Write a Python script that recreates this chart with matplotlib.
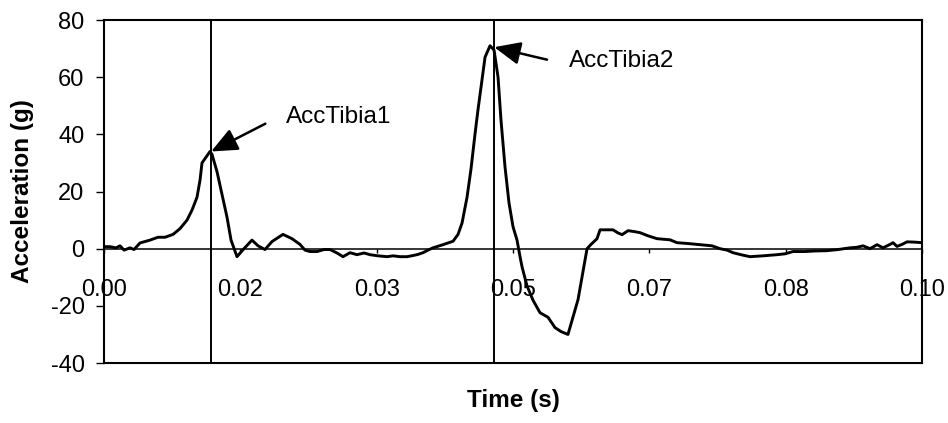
import numpy as np
import matplotlib.pyplot as plt

plt.rcParams['font.family'] = ['Liberation Sans', 'DejaVu Sans']
plt.rcParams['axes.unicode_minus'] = False

# tibia acceleration trace (time in s, acceleration in g)
time_s = [0.0, 0.00073, 0.00147, 0.00196, 0.00245, 0.00318, 0.00367, 0.0044,
          0.00562, 0.0066, 0.00746, 0.00844, 0.00929, 0.01015, 0.01076, 0.01137,
          0.01174, 0.01198, 0.01247, 0.01296, 0.0132, 0.01381, 0.01443, 0.01504,
          0.01553, 0.01626, 0.01711, 0.01809, 0.01883, 0.01968, 0.02054, 0.02188,
          0.02298, 0.02396, 0.02457, 0.02518, 0.02604, 0.0269, 0.02763, 0.02848,
          0.02922, 0.03007, 0.03093, 0.03178, 0.03252, 0.0335, 0.0346, 0.03533,
          0.03619, 0.03704, 0.03778, 0.03839, 0.039, 0.03961, 0.04022, 0.04144,
          0.04267, 0.04328, 0.04377, 0.04438, 0.04487, 0.04535, 0.04572, 0.04621,
          0.04658, 0.04719, 0.04768, 0.04817, 0.04853, 0.04902, 0.04951, 0.05,
          0.05049, 0.05086, 0.0511, 0.05171, 0.05244, 0.0533, 0.05428, 0.05513,
          0.05587, 0.05672, 0.05733, 0.05795, 0.05856, 0.05905, 0.05954, 0.06027,
          0.06064, 0.06149, 0.06222, 0.06284, 0.06333, 0.06406, 0.06479, 0.06553,
          0.0665, 0.0676, 0.06846, 0.06919, 0.07005, 0.07139, 0.07286, 0.07433,
          0.0753, 0.07616, 0.07689, 0.078, 0.07897, 0.08056, 0.08227, 0.08325,
          0.08423, 0.0857, 0.08692, 0.08839, 0.08973, 0.0912, 0.09205, 0.09279,
          0.09364, 0.0945, 0.09523, 0.09609, 0.09645, 0.09694, 0.09756, 0.09817,
          0.09902, 0.1]
accel_g = [0.7, 0.7, 0.3, 1.0, -0.5, 0.3, -0.3, 2.0,
           3.0, 4.0, 4.0, 5.0, 7.0, 10.0, 13.5, 18.0,
           24.0, 30.0, 32.0, 34.0, 33.0, 27.0, 19.0, 11.0,
           3.0, -2.8, 0.0, 3.0, 1.0, -0.3, 2.5, 5.0,
           3.5, 1.5, -0.5, -1.0, -1.0, -0.3, -0.3, -1.5,
           -2.8, -1.4, -2.1, -1.5, -2.1, -2.5, -2.8, -2.5,
           -2.8, -2.8, -2.4, -2.0, -1.4, -0.5, 0.3, 1.4,
           2.6, 5.0, 9.0, 18.0, 28.0, 40.0, 48.6, 59.0,
           67.0, 71.0, 69.5, 60.0, 45.0, 28.7, 16.0, 7.7,
           3.0, -2.8, -6.3, -13.0, -18.0, -22.4, -24.0, -27.6,
           -29.0, -30.0, -24.0, -17.8, -8.0, 0.0, 1.5, 3.5,
           6.6, 6.6, 6.6, 5.5, 4.9, 6.3, 6.0, 5.6,
           4.5, 3.5, 3.3, 3.1, 2.1, 1.8, 1.4, 1.0,
           0.0, -0.5, -1.4, -2.2, -2.8, -2.5, -2.1, -1.8,
           -1.0, -1.0, -0.8, -0.7, -0.3, 0.3, 0.5, 1.0,
           0.0, 1.4, 0.3, 1.5, 2.1, 0.8, 1.5, 2.4,
           2.3, 2.1]

peak_names = ['AccTibia1', 'AccTibia2']
peak_times = [0.0131, 0.0477]
peak_values = [34.0, 70.5]

x_ticks = np.linspace(0, 0.1, 7)
x_tick_labels = ['0.00', '0.02', '0.03', '0.05', '0.07', '0.08', '0.10']
y_ticks = [-40, -20, 0, 20, 40, 60, 80]

fig = plt.figure(figsize=(9.48, 4.23), dpi=100)
ax = fig.add_axes([0.1097, 0.1418, 0.8629, 0.8109])

ax.plot(time_s, accel_g, color='black', lw=2.1, solid_joinstyle='round')

for t in peak_times:
    ax.axvline(t, color='black', lw=1.4)

ax.set_xlim(0, 0.1)
ax.set_ylim(-40, 80)

# x axis crosses at zero, box closed by a separate line at the bottom
for side in ['left', 'right', 'top']:
    ax.spines[side].set_linewidth(1.5)
ax.spines['bottom'].set_position(('data', 0))
ax.spines['bottom'].set_linewidth(1.1)
ax.plot([0, 1], [0, 0], transform=ax.transAxes, color='black', lw=1.5, clip_on=False)

ax.set_xticks(x_ticks)
ax.set_xticklabels(x_tick_labels)
ax.set_yticks(y_ticks)
ax.tick_params(axis='x', direction='out', length=3, width=1, pad=19, labelsize=17)
ax.tick_params(axis='y', direction='out', length=6, width=1, pad=8, labelsize=17)

ax.set_xlabel('Time (s)', fontsize=17.5, fontweight='bold', va='center')
ax.xaxis.set_label_coords(0.5, -0.108)
ax.set_ylabel('Acceleration (g)', fontsize=17.5, fontweight='bold', va='center')
ax.yaxis.set_label_coords(-0.1, 0.5)

# arrows to the peaks with names beside them
arrow_offsets = [(39, 20), (38, -9)]
text_offsets = [(54, 25), (54, -10)]
for name, t, v, a_off, t_off in zip(peak_names, peak_times, peak_values,
                                     arrow_offsets, text_offsets):
    ax.annotate('', xy=(t, v), xytext=a_off, textcoords='offset points',
                arrowprops=dict(arrowstyle='-|>,head_length=0.8,head_width=0.35',
                                mutation_scale=20, color='black', lw=1.8,
                                shrinkA=0, shrinkB=0))
    ax.annotate(name, xy=(t, v), xytext=t_off, textcoords='offset points',
                ha='left', va='center', fontsize=17.5)

fig.savefig('out.png', dpi=100)
